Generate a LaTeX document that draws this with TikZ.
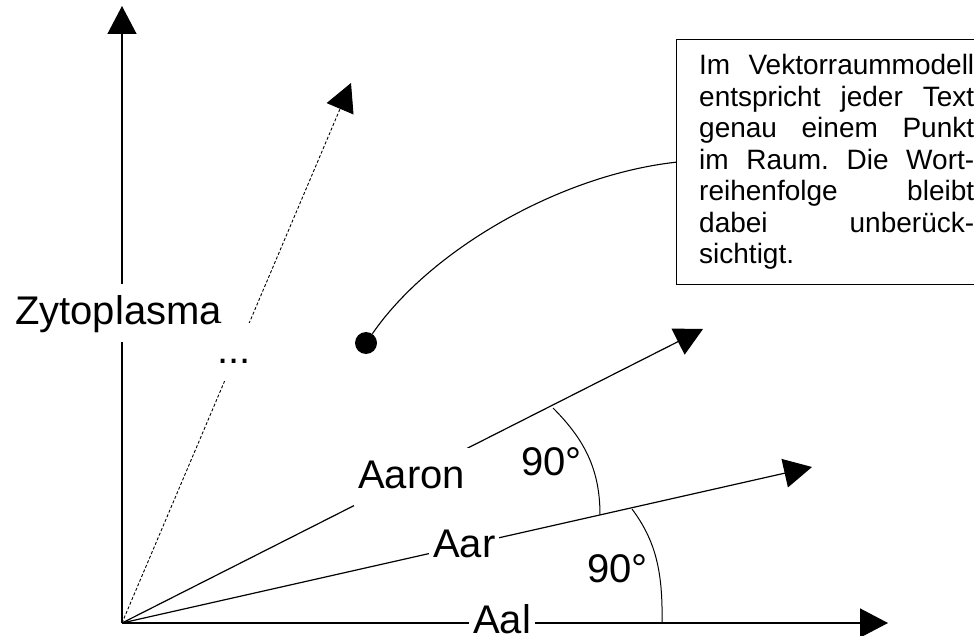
\documentclass[tikz,border=0pt]{standalone}
\usepackage{fontspec}
\setmainfont{Liberation Sans}
\usetikzlibrary{arrows.meta}
\begin{document}
\begin{tikzpicture}[x=1pt,y=-1pt,
  bigtip/.style={-{Triangle[length=28pt,width=29pt]}},
  axis/.style={line width=1.4pt, bigtip},
  vec/.style={line width=1.2pt, bigtip},
  hint/.style={line width=0.9pt, dash pattern=on 3pt off 2pt, bigtip},
  arcline/.style={line width=1pt},
  bigfont/.style={font=\fontsize{40}{48}\selectfont},
  lbl/.style={bigfont, fill=white, inner sep=4pt, text height=36pt, text depth=14pt},
  anglbl/.style={bigfont, inner sep=4pt},
  note/.style={draw, line width=1.4pt, inner sep=0pt, align=left,
    text width=275pt, minimum width=320pt, minimum height=245pt,
    font=\fontsize{28}{31.5}\selectfont}]
\useasboundingbox (0,0) rectangle (974,636);

% origin and vector end points
\coordinate (O) at (122,623);
\coordinate (ytip) at (122,6);
\coordinate (xtip) at (888,623);
\coordinate (dtip) at (351,83);
\coordinate (aarontip) at (703,329);
\coordinate (aartip) at (812,467);

% axes and term vectors
\draw[axis] (O) -- (ytip);
\draw[axis] (O) -- (xtip);
\draw[hint] (O) -- (dtip);
\draw[vec] (O) -- (aarontip);
\draw[vec] (O) -- (aartip);

% right-angle arcs
\draw[arcline] (553,408) .. controls (585,440) and (600,470) .. (600,515);
\draw[arcline] (632,509) .. controls (655,540) and (663,570) .. (662,623);

% axis labels
\node[lbl, anchor=base west] (zyto) at (11,324) {Zytoplasma};
\node[lbl, anchor=base] (dots) at (234,363) {...};
\node[lbl, anchor=base west] (aaron) at (354,488) {Aaron};
\node[lbl, anchor=base west] (aar) at (429,557) {Aar};
\node[lbl, anchor=base west] (aal) at (469,633) {Aal};
\node[anglbl, anchor=base west] (ang1) at (517,475) {90°};
\node[anglbl, anchor=base west] (ang2) at (583,582) {90°};

% document point and explanation (each line stretched to full width)
\node[circle, fill=black, inner sep=0pt, minimum size=22pt] (pt) at (366,343) {};
\node[note, anchor=north west] (note) at (676,39) {%
\spaceskip=0pt \xspaceskip=0pt \frenchspacing
\makebox[275pt][s]{Im Vektorraummodell}\\
\makebox[275pt][s]{entspricht jeder Text}\\
\makebox[275pt][s]{genau einem Punkt}\\
\makebox[275pt][s]{im Raum. Die Wort-}\\
\makebox[275pt][s]{reihenfolge bleibt}\\
\makebox[275pt][s]{dabei unberück-}\\
sichtigt.};
\draw[line width=1.1pt] (pt) .. controls (430,250) and (560,175) .. (note.west);
\end{tikzpicture}
\end{document}
